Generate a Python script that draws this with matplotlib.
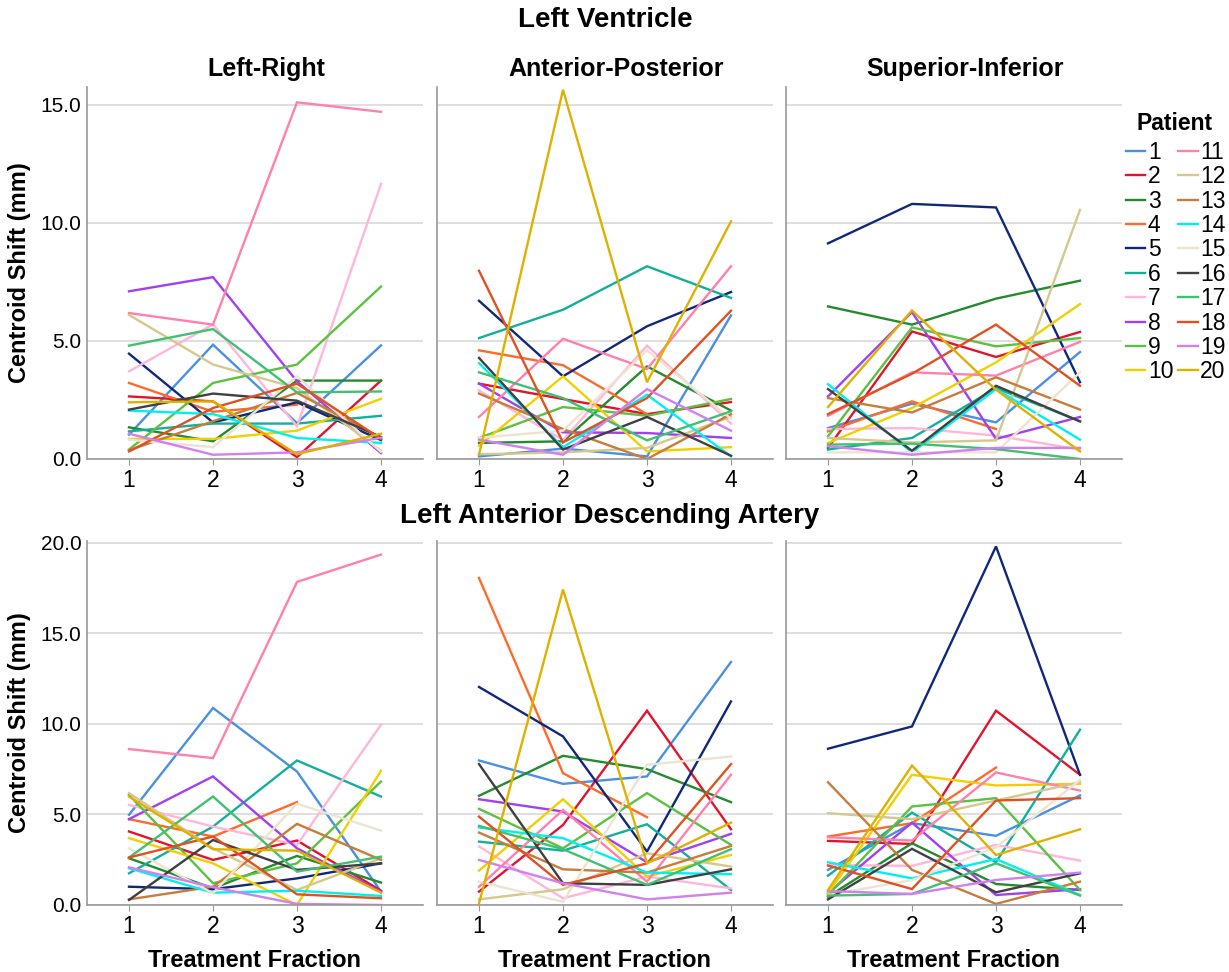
import numpy as np
import matplotlib
matplotlib.use("Agg")
import matplotlib.pyplot as plt

plt.rcParams['font.family'] = ['Liberation Sans', 'DejaVu Sans']

fractions = [1, 2, 3, 4]
patients = [str(i) for i in range(1, 21)]
colors = ['#4a90e2', '#e0142e', '#238b2e', '#ff6a2a', '#10287a',
          '#12b09a', '#ffb6d9', '#a040f0', '#5cc040', '#f0d000',
          '#ff80aa', '#d4c88c', '#c87c3c', '#00f0f0', '#ece4d0',
          '#404040', '#40c070', '#e05020', '#d080f0', '#e0b000']
nan = np.nan

# Left Ventricle
lv_lr = [
    [1.03, 4.84, 1.52, 4.81], [2.65, 2.44, 0.08, 3.32], [1.34, 0.75, 3.32, 3.32],
    [3.22, 2.00, 2.30, nan], [4.46, 1.55, 2.40, 0.80], [1.17, 1.50, 1.50, 1.83],
    [3.71, 5.70, 1.38, 11.65], [7.10, 7.70, 3.29, 0.25], [0.40, 3.22, 4.00, 7.30],
    [0.85, 0.85, 1.20, 2.55], [6.18, 5.69, 15.10, 14.70], [6.10, 4.00, 3.00, 0.35],
    [0.37, 1.60, 2.80, 0.90], [2.05, 1.90, 0.89, 0.68], [0.82, 0.50, 3.50, 0.30],
    [2.09, 2.77, 2.47, 0.93], [4.80, 5.50, 2.82, 2.86], [0.32, 2.16, 3.19, 0.85],
    [1.07, 0.18, 0.28, 0.90], [2.40, 2.44, 0.20, 1.07]]
lv_ap = [
    [0.11, 0.44, 0.11, 6.08], [3.19, 2.54, 1.90, 2.41], [0.68, 0.75, 3.92, 2.05],
    [4.60, 3.97, 1.90, nan], [6.70, 3.50, 5.62, 7.07], [5.12, 6.32, 8.16, 6.82],
    [2.90, 0.80, 4.80, 1.50], [3.19, 1.13, 1.10, 0.89], [0.89, 2.20, 1.83, 2.54],
    [0.56, 3.50, 0.32, 0.50], [1.78, 5.09, 3.81, 8.16], [0.20, 0.28, 0.47, 1.80],
    [2.77, 1.27, 0.00, 1.90], [4.06, 0.50, 2.72, 0.11], [0.90, 1.20, 4.60, 1.70],
    [4.28, 0.40, 1.78, 0.14], [3.67, 2.58, 0.79, 2.02], [7.97, 0.70, 2.58, 6.28],
    [0.82, 0.18, 2.96, 1.20], [0.18, 15.63, 3.25, 10.06]]
lv_si = [
    [1.31, 2.34, 1.55, 4.53], [0.47, 5.40, 4.32, 5.38], [6.46, 5.69, 6.79, 7.55],
    [1.17, 2.44, 1.27, nan], [9.13, 10.80, 10.65, 3.25], [0.40, 0.89, 3.00, 1.60],
    [1.27, 1.31, 0.99, 0.40], [2.65, 6.22, 0.85, 1.78], [0.96, 5.57, 4.77, 5.12],
    [0.68, 2.16, 4.09, 6.56], [1.83, 3.67, 3.53, 4.96], [0.89, 0.70, 0.79, 10.55],
    [2.58, 1.97, 3.46, 2.09], [3.17, 0.28, 2.96, 0.82], [0.28, 0.28, 0.28, 3.67],
    [2.96, 0.35, 3.10, 1.59], [0.61, 0.65, 0.42, 0.00], [1.90, 3.61, 5.69, 3.10],
    [0.54, 0.18, 0.47, 0.47], [2.20, 6.29, 2.93, 0.32]]

# Left Anterior Descending Artery
lad_lr = [
    [4.98, 10.88, 7.37, 0.74], [4.06, 2.49, 3.56, 0.79], [2.58, 0.92, 2.71, 1.24],
    [4.74, 3.78, 5.68, nan], [1.01, 0.87, 1.47, 2.30], [1.75, 4.33, 7.98, 5.99],
    [5.53, 4.33, 3.32, 9.95], [4.74, 7.10, 3.13, 0.74], [6.08, 1.20, 2.30, 6.82],
    [3.69, 2.30, 0.00, 7.41], [8.61, 8.11, 17.84, 19.35], [6.18, 3.13, 0.83, 2.58],
    [0.31, 1.01, 4.48, 2.49], [2.03, 0.68, 0.79, 0.50], [3.13, 0.65, 5.59, 4.11],
    [0.28, 3.59, 1.94, 2.30], [2.62, 5.99, 1.84, 2.67], [2.62, 3.78, 0.59, 0.37],
    [2.08, 0.98, 0.06, 0.00], [5.99, 3.08, 3.00, 0.68]]
lad_ap = [
    [7.98, 6.69, 7.10, 13.42], [0.74, 4.42, 10.73, 4.18], [6.03, 8.24, 7.50, 5.68],
    [18.06, 7.28, 4.85, nan], [12.04, 9.31, 2.95, 11.24], [3.50, 3.00, 4.46, 0.83],
    [3.23, 0.37, 1.57, 0.92], [5.84, 5.16, 2.36, 3.93], [5.31, 3.13, 6.18, 3.32],
    [1.90, 5.84, 1.57, 2.76], [1.01, 5.25, 1.29, 7.19], [0.31, 0.87, 2.86, 2.12],
    [4.00, 1.97, 1.79, 3.26], [4.28, 3.69, 1.79, 1.70], [1.29, 0.18, 7.74, 8.20],
    [7.78, 1.20, 1.11, 1.97], [4.37, 3.08, 1.11, 3.08], [4.88, 1.11, 2.30, 7.78],
    [2.49, 1.20, 0.31, 0.68], [0.09, 17.42, 2.30, 4.55]]
lad_si = [
    [1.94, 4.52, 3.82, 6.05], [3.54, 3.37, 10.73, 7.19], [0.46, 3.41, 1.16, 0.83],
    [3.78, 4.52, 7.59, nan], [8.63, 9.86, 19.80, 7.19], [1.62, 5.10, 2.36, 9.68],
    [2.21, 2.16, 3.32, 2.45], [0.65, 4.55, 0.55, 0.87], [0.55, 5.44, 5.90, 0.83],
    [0.65, 7.19, 6.60, 6.69], [3.74, 3.56, 7.32, 6.32], [5.07, 4.74, 5.77, 6.78],
    [6.78, 1.94, 0.06, 1.29], [2.36, 1.47, 2.54, 0.55], [0.55, 1.38, 3.19, 6.91],
    [0.31, 3.10, 0.70, 1.75], [0.52, 0.61, 2.30, 0.52], [2.18, 0.88, 5.77, 5.90],
    [0.77, 0.61, 1.38, 1.79], [0.83, 7.70, 2.76, 4.18]]

panels = [[lv_lr, lv_ap, lv_si], [lad_lr, lad_ap, lad_si]]
col_titles = ['Left-Right', 'Anterior-Posterior', 'Superior-Inferior']
row_titles = ['Left Ventricle', 'Left Anterior Descending Artery']
row_ylims = [(0, 15.75), (0, 20.1)]
row_yticks = [[0, 5, 10, 15], [0, 5, 10, 15, 20]]

W, H = 1229, 972
fig = plt.figure(figsize=(W / 100, H / 100), dpi=100)

lefts = [87, 437, 786]
pw = 336
row_box = [(87, 459), (541, 905)]  # top, bottom pixel

for r in range(2):
    top, bot = row_box[r]
    for c in range(3):
        ax = fig.add_axes([lefts[c] / W, 1 - bot / H, pw / W, (bot - top) / H])
        data = panels[r][c]
        lines = []
        for i, vals in enumerate(data):
            ln, = ax.plot(fractions, vals, color=colors[i], lw=1.7,
                          solid_joinstyle='miter', label=patients[i])
            lines.append(ln)
        ax.set_xlim(0.5, 4.5)
        ax.set_ylim(*row_ylims[r])
        ax.set_xticks(fractions)
        ax.set_yticks(row_yticks[r])
        if c == 0:
            ax.set_yticklabels([f'{v:.1f}' for v in row_yticks[r]])
        else:
            ax.set_yticklabels([])
        ax.grid(axis='y', color='#d9d9d9', lw=1.2)
        ax.set_axisbelow(True)
        for s in ['top', 'right']:
            ax.spines[s].set_visible(False)
        for s in ['left', 'bottom']:
            ax.spines[s].set_color('#999999')
            ax.spines[s].set_linewidth(1.2)
        ax.tick_params(axis='y', length=0, labelsize=15, pad=4)
        ax.tick_params(axis='x', length=4, color='#999999', labelsize=16.5, pad=3)
        if r == 0:
            handles = lines

for c, t in enumerate(col_titles):
    fig.text((lefts[c] + pw / 2 + 11) / W, 1 - 76 / H, t, ha='center',
             va='baseline', fontsize=18, fontweight='bold')
    fig.text((lefts[c] + pw / 2) / W, 1 - 967 / H, 'Treatment Fraction',
             ha='center', va='baseline', fontsize=17, fontweight='bold')

fig.text(605 / W, 1 - 20 / H, row_titles[0], ha='center', va='center',
         fontsize=20, fontweight='bold')
fig.text(610 / W, 1 - 516 / H, row_titles[1], ha='center', va='center',
         fontsize=20, fontweight='bold')

for r in range(2):
    top, bot = row_box[r]
    fig.text(20 / W, 1 - ((top + bot) / 2) / H, 'Centroid Shift (mm)',
             rotation=90, ha='center', va='center', fontsize=17,
             fontweight='bold')

fig.text(1175 / W, 1 - 123 / H, 'Patient', ha='center', va='center',
         fontsize=16.5, fontweight='bold')
leg = fig.legend(handles=handles, labels=patients, ncol=2,
                 loc='upper left', bbox_to_anchor=(1126 / W, 1 - 141 / H),
                 frameon=False, fontsize=16.5,
                 handlelength=0.85, handletextpad=0.1, columnspacing=0.22,
                 labelspacing=0.06, borderaxespad=0, borderpad=0)

fig.savefig('out.png', dpi=100)
